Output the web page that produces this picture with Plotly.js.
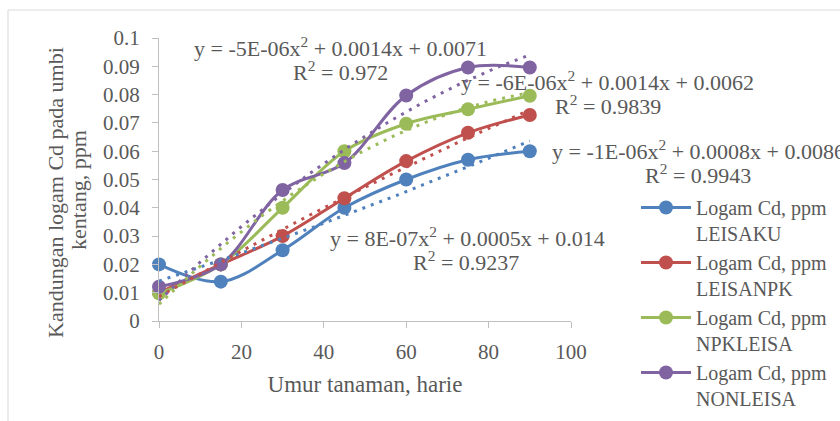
<!DOCTYPE html>
<html>
<head>
<meta charset="utf-8">
<script src="https://cdn.plot.ly/plotly-3.0.1.min.js"></script>
<style>html,body{margin:0;padding:0;background:#fff;}#chart{width:840px;height:421px;}</style>
</head>
<body>
<div id="chart"></div>
<script>
// ---- data ----
const days = [0, 15, 30, 45, 60, 75, 90];
const leisaku   = [0.020, 0.0139, 0.025, 0.040, 0.050, 0.057, 0.060];
const leisanpk  = [0.010, 0.020, 0.030, 0.0434, 0.0565, 0.0665, 0.0728];
const npkleisa  = [0.0098, 0.020, 0.040, 0.060, 0.0697, 0.0748, 0.0796];
const nonleisa  = [0.0121, 0.020, 0.0463, 0.0558, 0.0797, 0.0896, 0.0896];
const seriesNames = ["Logam Cd, ppm<br>LEISAKU", "Logam Cd, ppm<br>LEISANPK", "Logam Cd, ppm<br>NPKLEISA", "Logam Cd, ppm<br>NONLEISA"];
const trendEquations = [
  "y = 8E-07x<sup>2</sup> + 0.0005x + 0.014",
  "y = -1E-06x<sup>2</sup> + 0.0008x + 0.0086",
  "y = -6E-06x<sup>2</sup> + 0.0014x + 0.0062",
  "y = -5E-06x<sup>2</sup> + 0.0014x + 0.0071"
];
const trendR2 = ["R<sup>2</sup> = 0.9237", "R<sup>2</sup> = 0.9943", "R<sup>2</sup> = 0.9839", "R<sup>2</sup> = 0.972"];
const yTitleLines = ["Kandungan logam Cd pada umbi", "kentang, ppm"];
const xTitle = "Umur tanaman, harie";
const yTickVals = [0, 0.01, 0.02, 0.03, 0.04, 0.05, 0.06, 0.07, 0.08, 0.09, 0.1];
const yTickText = ["0", "0.01", "0.02", "0.03", "0.04", "0.05", "0.06", "0.07", "0.08", "0.09", "0.1"];
const xTickVals = [0, 20, 40, 60, 80, 100];

const colors = ["#4F81BD", "#C0504D", "#9BBB59", "#8064A2"];
const allSeries = [leisaku, leisanpk, npkleisa, nonleisa];
const FONT = "Liberation Serif, Times New Roman, serif";
const TXT = "#595959";

// least-squares quadratic fit (Excel polynomial trendline, order 2)
function polyfit2(xs, ys) {
  let S = [0,0,0,0,0], T = [0,0,0];
  for (let i = 0; i < xs.length; i++) {
    let p = 1;
    for (let k = 0; k < 5; k++) { S[k] += p; if (k < 3) T[k] += p * ys[i]; p *= xs[i]; }
  }
  const A = [[S[0],S[1],S[2],T[0]],[S[1],S[2],S[3],T[1]],[S[2],S[3],S[4],T[2]]];
  for (let c = 0; c < 3; c++) {
    for (let r = c + 1; r < 3; r++) {
      const f = A[r][c] / A[c][c];
      for (let k = c; k < 4; k++) A[r][k] -= f * A[c][k];
    }
  }
  const sol = [0,0,0];
  for (let r = 2; r >= 0; r--) {
    let s = A[r][3];
    for (let k = r + 1; k < 3; k++) s -= A[r][k] * sol[k];
    sol[r] = s / A[r][r];
  }
  return sol; // c0, c1, c2
}

const traces = [];
allSeries.forEach((ys, i) => {
  traces.push({
    x: days, y: ys, name: seriesNames[i], type: "scatter", mode: "lines+markers",
    line: {color: colors[i], width: 3, shape: "spline", smoothing: 1},
    marker: {color: colors[i], size: 14},
    cliponaxis: false
  });
});
allSeries.forEach((ys, i) => {
  const c = polyfit2(days, ys);
  const tx = [], ty = [];
  const xmax = days[days.length - 1];
  for (let x = days[0]; x <= xmax; x += 1) { tx.push(x); ty.push(c[0] + c[1] * x + c[2] * x * x); }
  traces.push({
    x: tx, y: ty, type: "scatter", mode: "lines", showlegend: false, hoverinfo: "skip",
    line: {color: colors[i], width: 3, dash: "3px,6px"}, cliponaxis: false
  });
});

// plot area in pixels: x 159..571, y 38..321 -> paper coordinates
const PL = 159, PR = 571, PT = 38, PB = 321;
const px = p => (p - PL) / (PR - PL);
const py = p => (PB - p) / (PB - PT);

// label centres (pixels): equation line, R² line
const eqPos = [{x: 467, y: 237}, {x: 698, y: 150}, {x: 607, y: 81}, {x: 340, y: 47}];
const r2Pos = [{x: 466, y: 261}, {x: 698, y: 174}, {x: 608, y: 105}, {x: 340, y: 71}];
const annotations = [];
trendEquations.forEach((t, i) => {
  annotations.push({
    text: t, x: px(eqPos[i].x), y: py(eqPos[i].y), xref: "paper", yref: "paper",
    showarrow: false, xanchor: "center", yanchor: "middle",
    font: {family: FONT, size: 22, color: TXT}
  });
  annotations.push({
    text: trendR2[i], x: px(r2Pos[i].x), y: py(r2Pos[i].y), xref: "paper", yref: "paper",
    showarrow: false, xanchor: "center", yanchor: "middle",
    font: {family: FONT, size: 22, color: TXT}
  });
});
const yTitlePos = [{x: 55, y: 193}, {x: 78, y: 190}];
yTitleLines.forEach((t, i) => {
  annotations.push({
    text: t, textangle: -90, xref: "paper", yref: "paper",
    x: px(yTitlePos[i].x), y: py(yTitlePos[i].y),
    showarrow: false, xanchor: "center", yanchor: "middle",
    font: {family: FONT, size: 22, color: TXT}
  });
});

const layout = {
  width: 840, height: 421,
  margin: {l: PL, r: 840 - PR, t: PT, b: 421 - PB, autoexpand: false},
  paper_bgcolor: "#ffffff", plot_bgcolor: "#ffffff",
  font: {family: FONT, size: 20, color: TXT},
  showlegend: true,
  legend: {
    x: px(636), xanchor: "left", y: py(188), yanchor: "top",
    font: {family: FONT, size: 20, color: TXT}, itemwidth: 50, valign: "top",
    bgcolor: "rgba(0,0,0,0)"
  },
  xaxis: {
    range: [0, 100], tickvals: xTickVals, ticks: "outside", ticklen: 6, tickcolor: "#bfbfbf",
    showline: true, linecolor: "#bfbfbf", linewidth: 1, showgrid: false, zeroline: false,
    tickfont: {family: FONT, size: 21, color: TXT}, ticklabelstandoff: 6,
    title: {text: xTitle, font: {family: FONT, size: 23, color: TXT}, standoff: 12}
  },
  yaxis: {
    range: [0, 0.1], tickvals: yTickVals, ticktext: yTickText, ticks: "outside", ticklen: 6, tickcolor: "#bfbfbf",
    showline: true, linecolor: "#bfbfbf", linewidth: 1, showgrid: false, zeroline: false,
    tickfont: {family: FONT, size: 21, color: TXT}, ticklabelstandoff: 8
  },
  annotations: annotations,
  shapes: [
    {type: "line", xref: "paper", yref: "paper", x0: px(8), x1: px(8),
     y0: py(10), y1: py(430), line: {color: "#d9d9d9", width: 1}},
    {type: "line", xref: "paper", yref: "paper", x0: px(8), x1: px(850),
     y0: py(10), y1: py(10), line: {color: "#d9d9d9", width: 1}}
  ]
};

Plotly.newPlot("chart", traces, layout, {staticPlot: true, displayModeBar: false});
</script>
</body>
</html>
